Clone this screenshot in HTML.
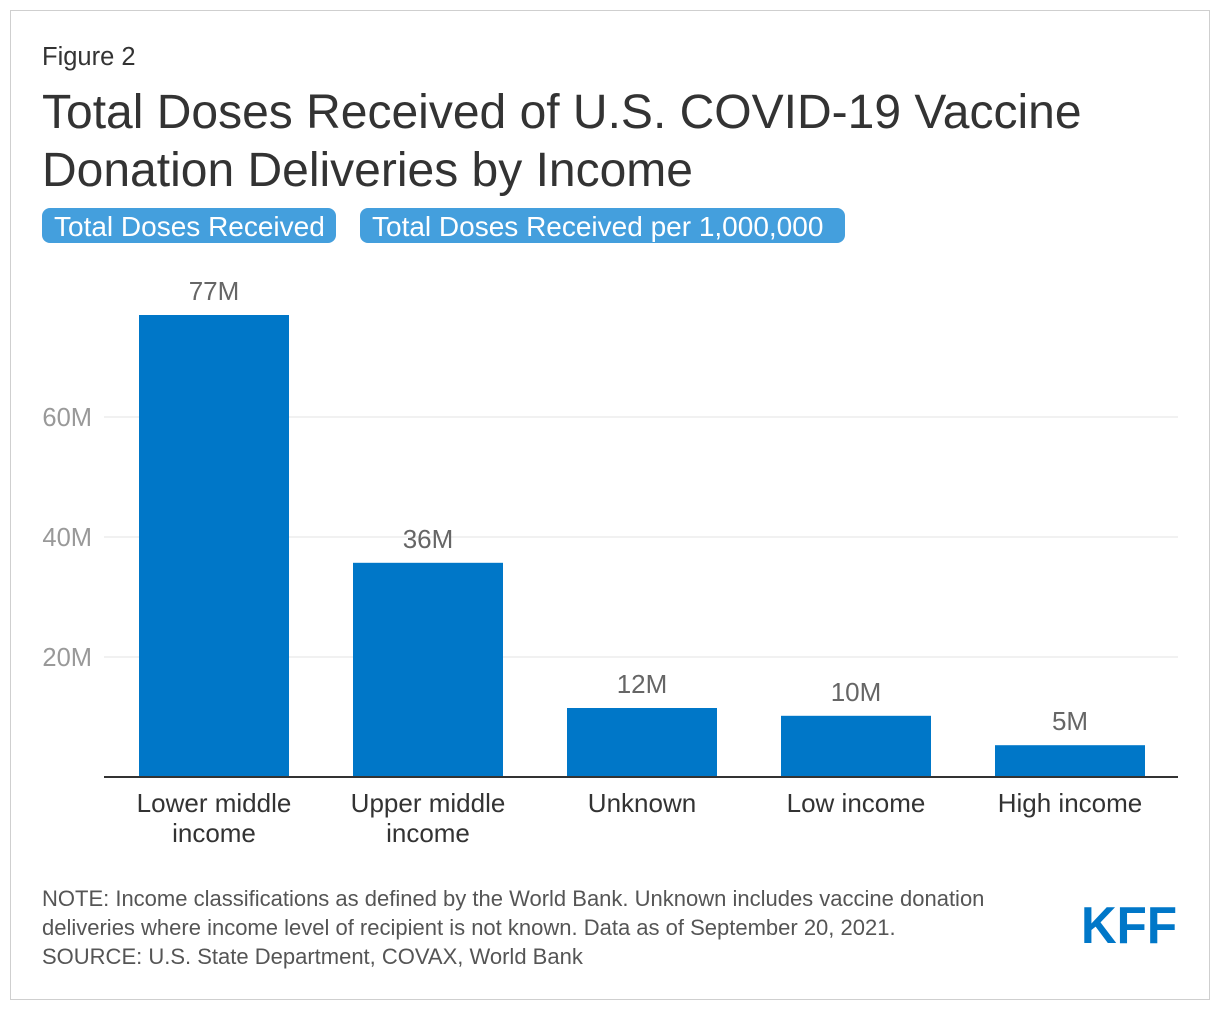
<!DOCTYPE html>
<html><head><meta charset="utf-8"><style>
body{margin:0;width:1220px;height:1016px;background:#fff;font-family:"Liberation Sans",Arial,sans-serif;position:relative;overflow:hidden}
.frame{position:absolute;left:10px;top:10px;width:1198px;height:988px;border:1px solid #cfcfcf}
.fig{position:absolute;left:42px;top:43px;font-size:25.5px;color:#333}
.title{position:absolute;left:42px;top:84px;font-size:48px;line-height:58px;color:#333;width:1160px}
.btn{position:absolute;top:208px;height:35px;background:#449fdd;color:#fff;border-radius:8px;font-size:28px;line-height:37px;padding:0 12px;box-sizing:border-box;white-space:nowrap}
.note{position:absolute;left:42px;top:884px;font-size:22px;line-height:29px;color:#555;white-space:nowrap}
</style></head><body>
<div class="frame"></div>
<div class="fig">Figure 2</div>
<div class="title">Total Doses Received of U.S. COVID-19 Vaccine<br>Donation Deliveries by Income</div>
<div class="btn" style="left:42px;width:294px">Total Doses Received</div>
<div class="btn" style="left:360px;width:485px">Total Doses Received per 1,000,000</div>
<svg id="chart" width="1220" height="1016" style="position:absolute;left:0;top:0"></svg>
<div class="note">NOTE: Income classifications as defined by the World Bank. Unknown includes vaccine donation<br>deliveries where income level of recipient is not known. Data as of September 20, 2021.<br>SOURCE: U.S. State Department, COVAX, World Bank</div>
<svg width="100" height="50" style="position:absolute;left:1080px;top:900px"><text x="1" y="43" font-family="Liberation Sans, Arial, sans-serif" font-weight="bold" font-size="52" fill="#0077c8" textLength="96" lengthAdjust="spacingAndGlyphs">KFF</text></svg>
<script>
const categories=[["Lower middle","income"],["Upper middle","income"],["Unknown"],["Low income"],["High income"]];
const values=[77,35.7,11.5,10.2,5.3];
const valueLabels=["77M","36M","12M","10M","5M"];
const ticks=[20,40,60];
const tickLabels=["20M","40M","60M"];
const svg=document.getElementById('chart');const NS='http://www.w3.org/2000/svg';
const x0=107,band=214,barW=150,base=777,pxPer=6;
const y=v=>base-v*pxPer;const xc=i=>x0+band*i+band/2;
function mk(t,a,txt){const e=document.createElementNS(NS,t);for(const k in a)e.setAttribute(k,a[k]);if(txt!=null)e.textContent=txt;svg.appendChild(e);return e;}
ticks.forEach((t,i)=>{
const g=mk('line',{x1:104,x2:1178,y1:y(t),y2:y(t),stroke:'#e3e3e3','stroke-width':1});


const l=mk('text',{x:92,y:y(t)+9,'text-anchor':'end','font-size':25.5,fill:'#999','font-family':'Liberation Sans, sans-serif'},tickLabels[i]);


});
values.forEach((v,i)=>{
const r=mk('rect',{x:xc(i)-barW/2,y:y(v),width:barW,height:base-y(v),fill:'#0077c8'});


const t=mk('text',{x:xc(i),y:y(v)-15,'text-anchor':'middle','font-size':26,fill:'#666','font-family':'Liberation Sans, sans-serif'},valueLabels[i]);


categories[i].forEach((line,j)=>{
const c=mk('text',{x:xc(i),y:812+j*30,'text-anchor':'middle','font-size':26,fill:'#333','font-family':'Liberation Sans, sans-serif'},line);


});
});
const ax=mk('line',{x1:104,x2:1178,y1:base,y2:base,stroke:'#333','stroke-width':2});


</script>
</body></html>
